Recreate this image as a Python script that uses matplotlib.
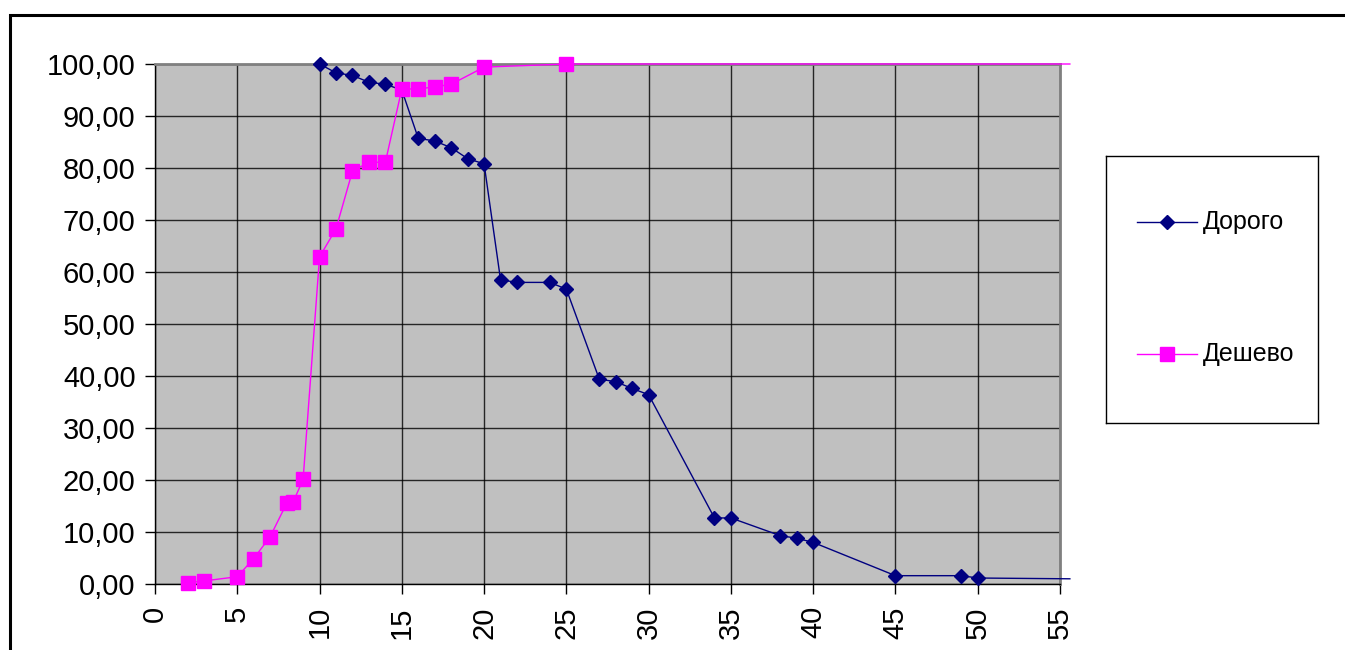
import matplotlib

matplotlib.use("Agg")

import matplotlib.pyplot as plt
from matplotlib.patches import Rectangle
from matplotlib.ticker import FuncFormatter, MultipleLocator

# "Дорого" series (navy diamonds)
expensive_x = [10, 11, 12, 13, 14, 15, 16, 17, 18, 19, 20, 21, 22, 24, 25,
               27, 28, 29, 30, 34, 35, 38, 39, 40, 45, 49, 50, 55.6]
expensive_y = [100.0, 98.3, 97.8, 96.5, 96.1, 95.0, 85.7, 85.2, 83.9, 81.8, 80.8,
               58.5, 58.0, 58.0, 56.7, 39.4, 38.9, 37.6, 36.4, 12.7, 12.7,
               9.3, 8.8, 8.0, 1.6, 1.6, 1.15, 1.0]

# "Дешево" series (magenta squares)
cheap_x = [2, 3, 5, 6, 7, 8, 8.4, 9, 10, 11, 12, 13, 14, 15, 16, 17, 18, 20, 25, 55.6]
cheap_y = [0.25, 0.6, 1.4, 4.9, 9.1, 15.5, 15.8, 20.1, 62.9, 68.3, 79.4, 81.1,
           81.1, 95.2, 95.2, 95.6, 96.1, 99.4, 100.0, 100.0]

expensive_label = "Дорого"
cheap_label = "Дешево"

NAVY = "#000080"
MAGENTA = "#FF00FF"
W, H = 1345, 650

plt.rcParams["font.family"] = ["Liberation Sans", "DejaVu Sans"]

fig = plt.figure(figsize=(W / 100, H / 100), dpi=100)

# outer chart-area border (only top and left visible in the crop)
fig.add_artist(Rectangle((10 / W, -0.1), 1.2, (H - 15) / H + 0.1,
                         transform=fig.transFigure, fill=False,
                         edgecolor="black", linewidth=2.2))

ax = fig.add_axes([155 / W, 1 - 584 / H, (1060 - 155) / W, (584 - 64) / H])
ax.set_facecolor("#C0C0C0")
ax.set_xlim(0, 55)
ax.set_ylim(0, 100)
ax.xaxis.set_major_locator(MultipleLocator(5))
ax.yaxis.set_major_locator(MultipleLocator(10))
ax.yaxis.set_major_formatter(FuncFormatter(lambda v, _: f"{v:.2f}".replace(".", ",")))
ax.grid(True, color="black", linewidth=1.0, alpha=0.8)
ax.set_axisbelow(True)

for side in ("top", "right"):
    ax.spines[side].set_color("#808080")
    ax.spines[side].set_linewidth(2)
for side in ("left", "bottom"):
    ax.spines[side].set_color("black")
    ax.spines[side].set_linewidth(1)

ax.tick_params(axis="both", direction="out", length=7, width=1, labelsize=21)
ax.tick_params(axis="y", pad=7)
ax.tick_params(axis="x", labelrotation=90, pad=9)
for lbl in ax.get_xticklabels():
    lbl.set_verticalalignment("top")

ax.plot(expensive_x, expensive_y, color=NAVY, linewidth=1.0, marker="D",
        markersize=7.5, markerfacecolor=NAVY, markeredgecolor=NAVY,
        markevery=list(range(len(expensive_x) - 1)), clip_on=False,
        label=expensive_label, zorder=3)
ax.plot(cheap_x, cheap_y, color=MAGENTA, linewidth=1.0, marker="s",
        markersize=9.5, markerfacecolor=MAGENTA, markeredgecolor=MAGENTA,
        markevery=list(range(len(cheap_x) - 1)), clip_on=False,
        label=cheap_label, zorder=4)

# legend box
leg_ax = fig.add_axes([1106 / W, 1 - 423 / H, (1318 - 1106) / W, (423 - 156) / H])
leg_ax.set_xlim(1106, 1318)
leg_ax.set_ylim(423, 156)
leg_ax.set_xticks([])
leg_ax.set_yticks([])
for sp in leg_ax.spines.values():
    sp.set_linewidth(1)
    sp.set_color("black")

leg_ax.plot([1137, 1197], [222, 222], color=NAVY, linewidth=1.0)
leg_ax.plot([1167], [222], marker="D", markersize=7, color=NAVY)
leg_ax.text(1203, 222, expensive_label, fontsize=18, va="center", ha="left")

leg_ax.plot([1137, 1197], [354, 354], color=MAGENTA, linewidth=1.0)
leg_ax.plot([1167], [354], marker="s", markersize=9.5, color=MAGENTA)
leg_ax.text(1203, 354, cheap_label, fontsize=18, va="center", ha="left")

fig.savefig("out.png", dpi=100)
